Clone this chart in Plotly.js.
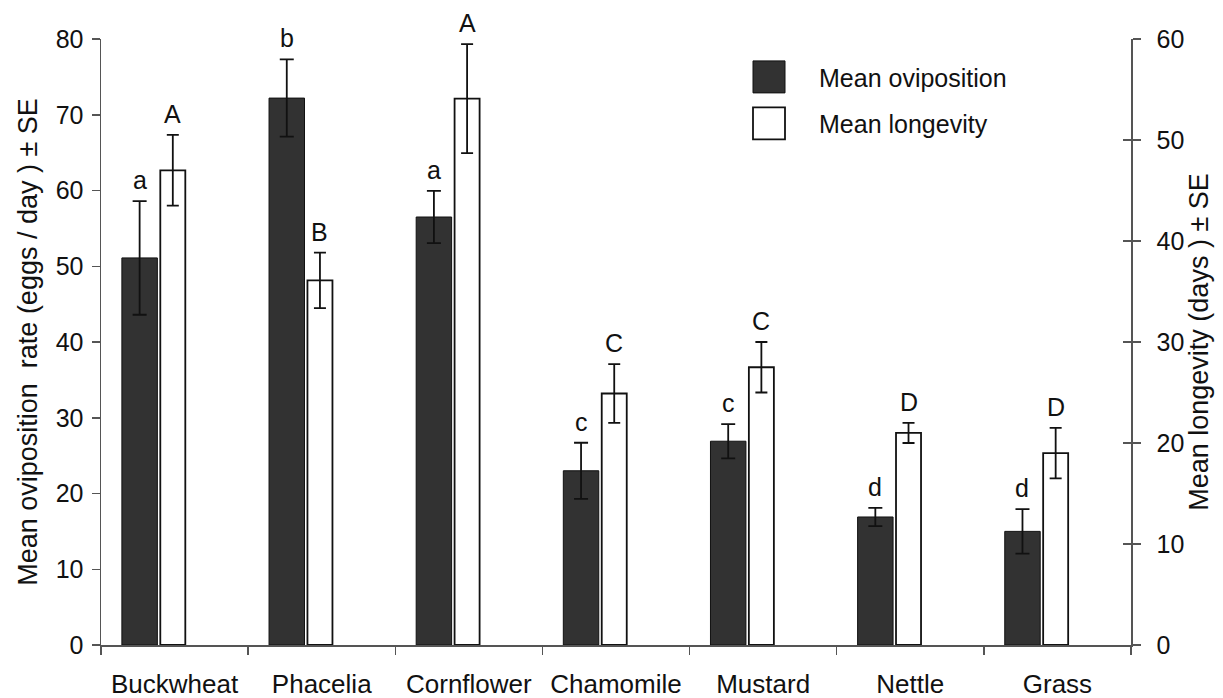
<!DOCTYPE html>
<html>
<head>
<meta charset="utf-8">
<script src="https://cdn.plot.ly/plotly-3.0.1.min.js"></script>
<style>
  html, body { margin: 0; padding: 0; background: #fff; }
  #chart { width: 1223px; height: 698px; }
</style>
</head>
<body>
<div id="chart"></div>
<script>
const categories = ['Buckwheat', 'Phacelia', 'Cornflower', 'Chamomile', 'Mustard', 'Nettle', 'Grass'];
const ovipositionMean = [51.1, 72.2, 56.5, 23.0, 26.9, 16.9, 15.0];
const ovipositionSE = [7.5, 5.1, 3.45, 3.7, 2.25, 1.2, 2.95];
const longevityMean = [47.0, 36.1, 54.1, 24.9, 27.5, 21.0, 19.0];
const longevitySE = [3.5, 2.75, 5.4, 2.9, 2.5, 1.0, 2.5];
const ovipositionLetters = ['a', 'b', 'a', 'c', 'c', 'd', 'd'];
const longevityLetters = ['A', 'B', 'A', 'C', 'C', 'D', 'D'];
const leftTicks = [0, 10, 20, 30, 40, 50, 60, 70, 80];
const rightTicks = [0, 10, 20, 30, 40, 50, 60];

const FONT = 'Liberation Sans, Arial, sans-serif';
const darkWidth = 0.241, darkOffset = -0.358;
const whiteWidth = 0.170, whiteOffset = -0.097;

const traceOvi = {
  type: 'bar', name: 'Mean oviposition', x: categories, y: ovipositionMean,
  width: darkWidth, offset: darkOffset,
  marker: { color: '#323232', line: { color: '#111', width: 1 } },
  error_y: { type: 'data', array: ovipositionSE, visible: true, color: '#111', thickness: 1.8, width: 7 },
  yaxis: 'y', legendgroup: 'g1'
};
const traceLong = {
  type: 'bar', name: 'Mean longevity', x: categories, y: longevityMean,
  width: whiteWidth, offset: whiteOffset,
  marker: { color: '#ffffff', line: { color: '#111', width: 1.8 } },
  error_y: { type: 'data', array: longevitySE, visible: true, color: '#111', thickness: 1.8, width: 6 },
  yaxis: 'y2', legendgroup: 'g2'
};
const traceTicks = {
  type: 'scatter', x: [], y: [], yaxis: 'y3', showlegend: false, hoverinfo: 'skip'
};

const annotations = [];
categories.forEach((c, i) => {
  annotations.push({
    x: i + darkOffset + darkWidth / 2, y: ovipositionMean[i] + ovipositionSE[i],
    xref: 'x', yref: 'y', text: ovipositionLetters[i], showarrow: false,
    yanchor: 'bottom', yshift: 5, font: { family: FONT, size: 25, color: '#111' }
  });
  annotations.push({
    x: i + whiteOffset + whiteWidth / 2, y: longevityMean[i] + longevitySE[i],
    xref: 'x', yref: 'y2', text: longevityLetters[i], showarrow: false,
    yanchor: 'bottom', yshift: 5, font: { family: FONT, size: 25, color: '#111' }
  });
});

const axisLine = { showline: true, linecolor: '#555', linewidth: 1.5, showgrid: false, zeroline: false };

const layout = {
  width: 1223, height: 698,
  margin: { l: 101, r: 92, t: 39, b: 53, pad: 0 },
  paper_bgcolor: '#fff', plot_bgcolor: '#fff',
  font: { family: FONT, size: 24, color: '#111' },
  barmode: 'overlay',
  showlegend: true,
  legend: {
    x: 0.60, y: 0.975, xanchor: 'left', yanchor: 'top',
    font: { family: FONT, size: 25, color: '#111' },
    itemwidth: 90, tracegroupgap: 11, traceorder: 'grouped',
    bgcolor: 'rgba(0,0,0,0)'
  },
  xaxis: Object.assign({}, axisLine, {
    type: 'category', range: [-0.5, 6.5], tickson: 'boundaries',
    ticks: 'outside', ticklen: 8, tickcolor: '#555', tickwidth: 1.5,
    tickfont: { family: FONT, size: 26, color: '#111' }, ticklabelstandoff: 15
  }),
  yaxis: Object.assign({}, axisLine, {
    range: [0, 80], tickvals: leftTicks, ticks: 'outside', ticklen: 8,
    tickcolor: '#555', tickwidth: 1.5, ticklabelstandoff: 3,
    tickfont: { family: FONT, size: 25, color: '#111' },
    title: { text: 'Mean oviposition\u00a0\u00a0rate (eggs / day ) ± SE', font: { family: FONT, size: 27, color: '#111' }, standoff: 10 }
  }),
  yaxis2: Object.assign({}, axisLine, {
    range: [0, 60], tickvals: rightTicks, overlaying: 'y', side: 'right',
    ticks: 'outside', ticklen: 8, tickcolor: '#555', tickwidth: 1.5, ticklabelstandoff: 11,
    tickfont: { family: FONT, size: 25, color: '#111' },
    title: { text: 'Mean longevity (days ) ± SE', font: { family: FONT, size: 27, color: '#111' }, standoff: 6 }
  }),
  yaxis3: {
    range: [0, 60], tickvals: rightTicks, overlaying: 'y', side: 'right',
    ticks: 'inside', ticklen: 8, tickcolor: '#555', tickwidth: 1.5,
    showticklabels: false, showgrid: false, zeroline: false, showline: false
  },
  annotations: annotations
};

Plotly.newPlot('chart', [traceOvi, traceLong, traceTicks], layout, { displayModeBar: false, staticPlot: true })
  .then(gd => {
    gd.querySelectorAll('.legend .legendpoints path').forEach(p => {
      p.setAttribute('d', 'M16,16H-16V-16H16Z');
    });
  });
</script>
</body>
</html>
